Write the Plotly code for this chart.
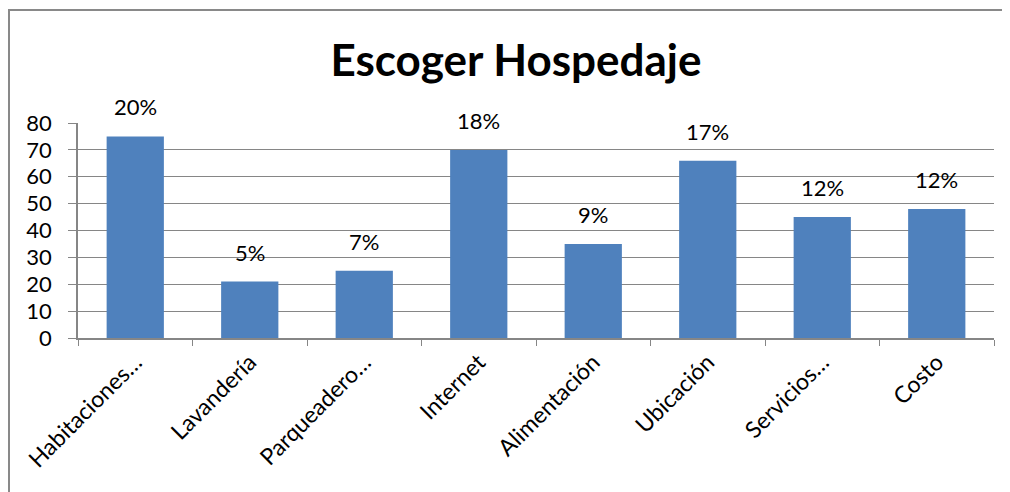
import plotly.graph_objects as go

categories = ["Habitaciones…", "Lavandería", "Parqueadero…", "Internet",
              "Alimentación", "Ubicación", "Servicios…", "Costo"]
values = [75, 21, 25, 70, 35, 66, 45, 48]
pct_labels = ["20%", "5%", "7%", "18%", "9%", "17%", "12%", "12%"]
y_ticks = [0, 10, 20, 30, 40, 50, 60, 70, 80]

FONT = "Lato"
GRID = "#868686"
BAR = "#4F81BD"

fig = go.Figure()
fig.add_trace(go.Bar(x=categories, y=values, marker=dict(color=BAR, line=dict(width=0)),
                     hoverinfo="skip"))

for c, v, t in zip(categories, values, pct_labels):
    fig.add_annotation(x=c, y=v, text=t, showarrow=False, yanchor="bottom",
                       yshift=14, font=dict(family=FONT, size=22, color="black"))

# page has an 8px body margin; compensate so the plot lands where the reference has it
OFF = 8
W, H = 1010, 492
L, R, T, B = 78 - OFF, 16 + OFF, 123 - OFF, 154 + OFF
pw, ph = W - L - R, H - T - B

fig.add_shape(type="rect", xref="paper", yref="paper",
              x0=(9 - OFF - L) / pw, x1=1.3, y0=-1.2, y1=(ph + T - (10 - OFF)) / ph,
              line=dict(color="#898989", width=2), fillcolor="rgba(0,0,0,0)", layer="below")

fig.update_layout(
    width=W, height=H,
    margin=dict(l=L, r=R, t=T, b=B, autoexpand=False),
    paper_bgcolor="white", plot_bgcolor="white",
    bargap=0.5,
    showlegend=False,
    font=dict(family=FONT, size=21, color="black"),
    title=dict(text="<b>Escoger Hospedaje</b>", x=(516 - OFF) / W, xanchor="center",
               y=1 - (61 - OFF) / H, yanchor="middle", yref="container",
               font=dict(family=FONT, size=44, color="black")),
    xaxis=dict(type="category", tickson="boundaries", ticks="outside", ticklen=6,
               tickcolor=GRID, showline=True, linecolor=GRID, linewidth=1.5,
               tickangle=-45, showgrid=False, range=[-0.5, 7.5], automargin=False,
               tickfont=dict(family=FONT, size=23, color="black")),
    yaxis=dict(range=[0, 80], tickvals=y_ticks, ticks="outside", ticklen=8,
               tickcolor=GRID, showline=True, linecolor=GRID, linewidth=1.5,
               showgrid=True, gridcolor=GRID, gridwidth=1, zeroline=False,
               automargin=False, ticklabelstandoff=12,
               tickfont=dict(family=FONT, size=22, color="black")),
)

fig.write_html("out.html")
